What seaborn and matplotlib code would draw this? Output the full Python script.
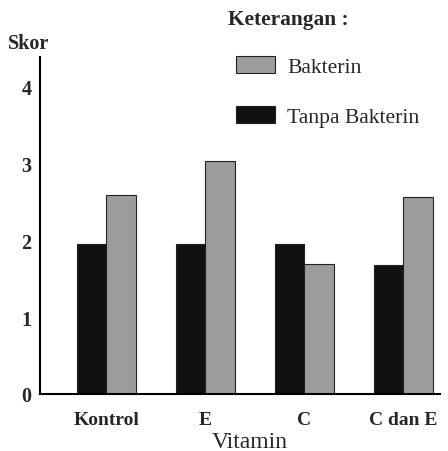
import matplotlib
matplotlib.use("Agg")
import matplotlib.pyplot as plt
import seaborn as sns
import pandas as pd
from matplotlib.patches import Patch

categories = ["Kontrol", "E", "C", "C dan E"]
tanpa_bakterin = [1.95, 1.95, 1.95, 1.68]
bakterin = [2.59, 3.03, 1.69, 2.57]
series_names = ["Tanpa Bakterin", "Bakterin"]
y_ticks = [0, 1, 2, 3, 4]

rows = []
for c, v in zip(categories, tanpa_bakterin):
    rows.append({"Vitamin": c, "Kelompok": series_names[0], "Skor": v})
for c, v in zip(categories, bakterin):
    rows.append({"Vitamin": c, "Kelompok": series_names[1], "Skor": v})
df = pd.DataFrame(rows)

sns.set_style("white")
plt.rcParams['font.family'] = ['Liberation Serif', 'DejaVu Serif']

fig = plt.figure(figsize=(4.48, 4.52), dpi=100)
ax = fig.add_axes([40/448, 57/452, 400/448, (395-58)/452])

colors = {"Tanpa Bakterin": "#111111", "Bakterin": "#9c9c9c"}
sns.barplot(data=df, x="Vitamin", y="Skor", hue="Kelompok",
            hue_order=series_names, order=categories, palette=colors,
            width=0.6, gap=0, edgecolor="#222222", linewidth=0.8,
            legend=False, ax=ax)

ax.set_xlim(-0.67, 3.37)
ax.set_ylim(0, 4.39)
ax.set_yticks(y_ticks)
ax.set_yticklabels([str(t) for t in y_ticks], fontsize=14.5, fontweight="bold")
ax.set_xticks(range(len(categories)))
ax.set_xticklabels(categories, fontsize=14, fontweight="bold")
ax.tick_params(axis="x", length=0, pad=12)
ax.tick_params(axis="y", direction="inout", length=8, width=1.2, pad=2, color="black")
for s in ["top", "right"]:
    ax.spines[s].set_visible(False)
for s in ["left", "bottom"]:
    ax.spines[s].set_color("black")
    ax.spines[s].set_linewidth(1.5)
ax.set_ylabel("")
ax.set_xlabel("Vitamin", fontsize=17)
ax.xaxis.set_label_coords((250 - 40) / 400, -(448 - 395) / 337, transform=ax.transAxes)
ax.xaxis.label.set_va("baseline")

fig.text(8/448, 1 - 44/452, "Skor", fontsize=14.5, fontweight="bold", va="center", ha="left")

fig.text(228/448, 1 - 20/452, "Keterangan :", fontsize=15.4, fontweight="bold",
         va="center", ha="left")

handles = [Patch(facecolor=colors["Bakterin"], edgecolor="#222222", linewidth=0.8),
           Patch(facecolor=colors["Tanpa Bakterin"], edgecolor="#222222", linewidth=0.8)]
leg = fig.legend(handles, ["Bakterin", "Tanpa Bakterin"],
                 loc="upper left", bbox_to_anchor=(219/448, 1 - 40/452),
                 frameon=False, fontsize=15.6, handlelength=1.8, handleheight=0.8,
                 labelspacing=1.35, handletextpad=0.55, borderpad=0.3)

fig.savefig("out.png", dpi=100)
